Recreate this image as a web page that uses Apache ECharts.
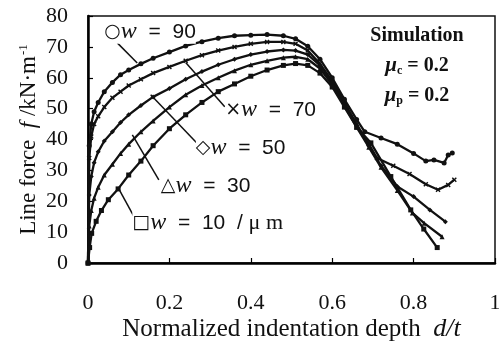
<!DOCTYPE html>
<html>
<head>
<meta charset="utf-8">
<style>
  html, body { margin: 0; padding: 0; background: #fff; }
  #chart { width: 499px; height: 342px; }
</style>
<script src="https://cdn.jsdelivr.net/npm/echarts@6/dist/echarts.min.js"></script>
</head>
<body>
<div id="chart"></div>
<script>
// 横轴刻度 / 纵轴刻度
const xTicks = [0, 0.2, 0.4, 0.6, 0.8, 1]
const yTicks = [0, 10, 20, 30, 40, 50, 60, 70, 80]

// w = 90
const d90 = [0, 0.003, 0.008, 0.015, 0.025, 0.04, 0.06, 0.08, 0.1, 0.13, 0.16, 0.2, 0.24, 0.28, 0.32, 0.36, 0.4, 0.44, 0.48, 0.51, 0.54, 0.57, 0.6, 0.63, 0.66, 0.68, 0.72, 0.76, 0.8, 0.83, 0.85, 0.875, 0.885, 0.895]
const f90 = [0, 38, 45, 49, 52, 55.5, 58.5, 61, 62.5, 64.5, 66.3, 68.3, 70.3, 71.7, 72.8, 73.6, 73.8, 74, 73.6, 72.6, 70.2, 66, 60, 53, 46.5, 42.5, 40.5, 38.5, 35.5, 33, 33.4, 32.4, 35, 35.6]
// w = 70
const d70 = [0, 0.003, 0.008, 0.015, 0.025, 0.04, 0.06, 0.08, 0.1, 0.13, 0.16, 0.2, 0.24, 0.28, 0.32, 0.36, 0.4, 0.44, 0.48, 0.51, 0.54, 0.57, 0.6, 0.63, 0.66, 0.69, 0.71, 0.75, 0.79, 0.83, 0.86, 0.885, 0.9]
const f70 = [0, 34, 41, 45, 47.5, 50.5, 53.5, 55.5, 57.5, 59.5, 61.5, 63.5, 65.5, 67.3, 68.8, 70, 71, 71.6, 71.6, 71, 68.8, 64.5, 59, 52, 45, 38.5, 34, 31.5, 28.8, 25.5, 23.7, 25.3, 27]
// w = 50
const d50 = [0, 0.003, 0.008, 0.015, 0.025, 0.04, 0.06, 0.08, 0.1, 0.13, 0.16, 0.2, 0.24, 0.28, 0.32, 0.36, 0.4, 0.44, 0.48, 0.51, 0.54, 0.57, 0.6, 0.63, 0.66, 0.69, 0.72, 0.76, 0.8, 0.84, 0.878]
const f50 = [0, 22, 28, 32.5, 36, 39.5, 42.5, 45.5, 48, 51, 53.8, 56.5, 59.5, 62, 64.2, 66, 67.5, 68.5, 69, 68.8, 67.5, 64, 58.5, 51.5, 44.5, 38, 31.5, 24.8, 21.5, 17.2, 13.4]
// w = 30
const d30 = [0, 0.003, 0.008, 0.015, 0.025, 0.04, 0.06, 0.08, 0.1, 0.13, 0.16, 0.2, 0.24, 0.28, 0.32, 0.36, 0.4, 0.44, 0.48, 0.51, 0.54, 0.57, 0.6, 0.63, 0.66, 0.69, 0.72, 0.76, 0.797, 0.826, 0.87]
const f30 = [0, 12, 17, 21, 24.5, 28.5, 32, 35.5, 38.5, 42.5, 46, 50.5, 54.5, 57.5, 60, 62.3, 64.2, 65.5, 66.5, 66.8, 66, 63, 57.8, 51, 44, 37.5, 31, 23.5, 16.2, 12.9, 8.5]
// w = 10
const d10 = [0, 0.004, 0.009, 0.02, 0.033, 0.05, 0.074, 0.1, 0.13, 0.16, 0.2, 0.24, 0.28, 0.32, 0.36, 0.4, 0.44, 0.48, 0.51, 0.54, 0.57, 0.6, 0.63, 0.66, 0.695, 0.744, 0.793, 0.825, 0.858]
const f10 = [0, 5, 9.6, 13.5, 17, 20.5, 24, 28.5, 33, 38, 43.5, 48, 52, 55.5, 58, 60.5, 62.5, 64, 64.6, 64, 61.5, 57, 50.5, 44, 38.9, 28, 17.2, 11, 5]

const serif = 'Liberation Serif'
const sans = 'Liberation Sans'
const crossPath = 'path://M0,2L2,0L5,3L8,0L10,2L7,5L10,8L8,10L5,7L2,10L0,8L3,5Z'

// 曲线配置
const curves = [
  {name: 'w=90', d: d90, f: f90, symbol: 'circle', label: '90', mark: '○'},
  {name: 'w=70', d: d70, f: f70, symbol: crossPath, label: '70', mark: '×'},
  {name: 'w=50', d: d50, f: f50, symbol: 'diamond', label: '50', mark: '◇'},
  {name: 'w=30', d: d30, f: f30, symbol: 'triangle', label: '30', mark: '△'},
  {name: 'w=10', d: d10, f: f10, symbol: 'rect', label: '10', mark: '□'}
]

// 标注位置（数据坐标）: 文字左端, 引线起点, 引线终点
const notes = {
  'w=90': {at: [0.040, 74.9], from: [0.072, 71.3], to: [0.121, 64.8]},
  'w=70': {at: [0.337, 49.6], from: [0.24, 64.9], to: [0.336, 50.6]},
  'w=50': {at: [0.265, 37.3], from: [0.154, 54.5], to: [0.268, 38.8]},
  'w=30': {at: [0.179, 25.0], from: [0.109, 41.5], to: [0.174, 26.9]},
  'w=10': {at: [0.109, 13.0], from: [0.077, 23.7], to: [0.113, 15.0]}
}

const myChart = echarts.init(document.getElementById('chart'))

myChart.setOption({
  animation: false,
  backgroundColor: '#fff',
  textStyle: {fontFamily: serif},
  grid: {
    left: 88,
    right: 4,
    top: 16,
    bottom: 79,
    outerBoundsMode: 'none',
    show: true,
    borderColor: '#111',
    borderWidth: 1.5
  },
  xAxis: {
    type: 'value',
    min: xTicks[0],
    max: xTicks[xTicks.length - 1],
    interval: 0.2,
    axisLine: {show: true, onZero: false, lineStyle: {color: '#000', width: 2.5}},
    axisTick: {inside: true, length: 5, lineStyle: {color: '#000', width: 1.2}},
    splitLine: {show: false},
    axisLabel: {
      margin: 29,
      color: '#111',
      fontFamily: serif,
      fontSize: 22,
      formatter: v => xTicks.indexOf(+v.toFixed(1)) >= 0 ? String(+v.toFixed(1)) : ''
    },
    name: '{a|Normalized indentation depth  }{i|d/t}',
    nameLocation: 'middle',
    nameGap: 53,
    nameMoveOverlap: false,
    nameTextStyle: {
      fontFamily: serif,
      rich: {
        a: {fontFamily: serif, fontSize: 25, color: '#111'},
        i: {fontFamily: serif, fontSize: 26, fontStyle: 'italic', color: '#111'}
      }
    }
  },
  yAxis: {
    type: 'value',
    min: yTicks[0],
    max: yTicks[yTicks.length - 1],
    interval: 10,
    axisLine: {show: true, lineStyle: {color: '#000', width: 2.5}},
    axisTick: {inside: true, length: 5, lineStyle: {color: '#000', width: 1.2}},
    splitLine: {show: false},
    axisLabel: {margin: 20, align: 'right', color: '#111', fontFamily: serif, fontSize: 22},
    name: '{a|Line force  }{i|f }{a|/kN·m}{s|-1}',
    nameLocation: 'middle',
    nameRotate: 90,
    nameGap: 48,
    nameMoveOverlap: false,
    nameTextStyle: {
      fontFamily: serif,
      rich: {
        a: {fontFamily: serif, fontSize: 23, color: '#111'},
        i: {fontFamily: serif, fontSize: 23, fontStyle: 'italic', color: '#111'},
        s: {fontFamily: serif, fontSize: 13, color: '#111', verticalAlign: 'top', padding: [0, 0, 10, 1]}
      }
    }
  },
  series: curves.map(c => ({
    name: c.name,
    type: 'line',
    data: c.d.map((d, i) => [d, c.f[i]]),
    symbol: c.symbol,
    symbolSize: 5,
    showSymbol: true,
    lineStyle: {color: '#111', width: 2.3},
    itemStyle: {color: '#111'},
    z: 3
  }))
})

// 标注与引线
const graphics = []
curves.forEach(c => {
  const n = notes[c.name]
  const p = myChart.convertToPixel({gridIndex: 0}, n.at)
  const a = myChart.convertToPixel({gridIndex: 0}, n.from)
  const b = myChart.convertToPixel({gridIndex: 0}, n.to)
  graphics.push({
    type: 'line',
    shape: {x1: a[0], y1: a[1], x2: b[0], y2: b[1]},
    style: {stroke: '#111', lineWidth: 1.5},
    z: 10
  })
  let txt = '{m|' + c.mark + '}{i|w}{n|  =  ' + c.label + '}'
  if (c.name === 'w=10') txt += '{n|  / }{u|μ m}'
  graphics.push({
    type: 'text',
    x: p[0],
    y: p[1],
    z: 11,
    style: {
      text: txt,
      verticalAlign: 'middle',
      align: 'left',
      backgroundColor: '#fff',
      rich: {
        m: {fontFamily: 'DejaVu Sans', fontSize: 19, fill: '#111'},
        i: {fontFamily: serif, fontStyle: 'italic', fontSize: 24, fill: '#111'},
        n: {fontFamily: sans, fontSize: 21, fill: '#111'},
        u: {fontFamily: serif, fontSize: 22, fill: '#111'}
      }
    }
  })
})

// 模拟参数
const simLines = [
  {text: '{b|Simulation}', y: 36},
  {text: '{g|μ}{s|c}{b| = 0.2}', y: 66},
  {text: '{g|μ}{s|p}{b| = 0.2}', y: 96}
]
simLines.forEach(l => {
  graphics.push({
    type: 'text',
    x: 417,
    y: l.y,
    z: 11,
    style: {
      text: l.text,
      align: 'center',
      verticalAlign: 'middle',
      rich: {
        b: {fontFamily: serif, fontWeight: 'bold', fontSize: 20, fill: '#111'},
        g: {fontFamily: serif, fontStyle: 'italic', fontWeight: 'bold', fontSize: 21, fill: '#111'},
        s: {fontFamily: serif, fontWeight: 'bold', fontSize: 12, fill: '#111', verticalAlign: 'bottom', padding: [8, 0, 0, 0]}
      }
    }
  })
})

myChart.setOption({graphic: graphics})
</script>
</body>
</html>
